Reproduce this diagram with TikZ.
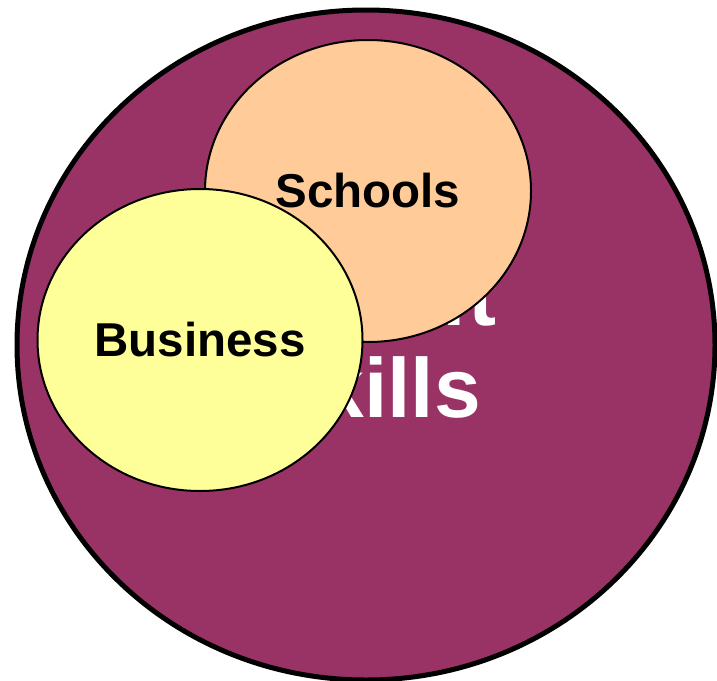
\documentclass[tikz,border=0pt]{standalone}
\usepackage{fontspec}
\setmainfont{Liberation Sans}
\usetikzlibrary{shapes.geometric}
\definecolor{plum}{HTML}{993366}
\definecolor{peach}{HTML}{FFCC99}
\definecolor{paleyellow}{HTML}{FFFF99}
\tikzset{
	blob/.style = {ellipse, draw, inner sep = 0pt, line width = 2pt},
	bigtxt/.style = {text = white, inner sep = 0pt, font = \fontsize{84}{96}\selectfont\bfseries},
	lbl/.style = {font = \fontsize{47.5}{56}\selectfont\bfseries}
}

\begin{document}
\begin{tikzpicture}[x = 1pt, y = -1pt]
	\useasboundingbox (0,0) rectangle (717,680);
	
	% outer circle
	\node[blob, line width = 5pt, fill = plum, minimum width = 698pt, minimum height = 670pt] (outer) at (366,345) {};
	
	% white title, mostly hidden
	\node[bigtxt, anchor = base east] (softtxt) at (497,325) {Soft};
	\node[bigtxt, anchor = base east] (skillstxt) at (481,417) {Skills};
	
	% inner circles
	\node[blob, fill = peach, minimum width = 326pt, minimum height = 302pt, lbl] (schools) at (368,191) {Schools};
	\node[blob, fill = paleyellow, minimum width = 325pt, minimum height = 302pt, lbl] (business) at (200,340) {Business};
	
\end{tikzpicture}
\end{document}
